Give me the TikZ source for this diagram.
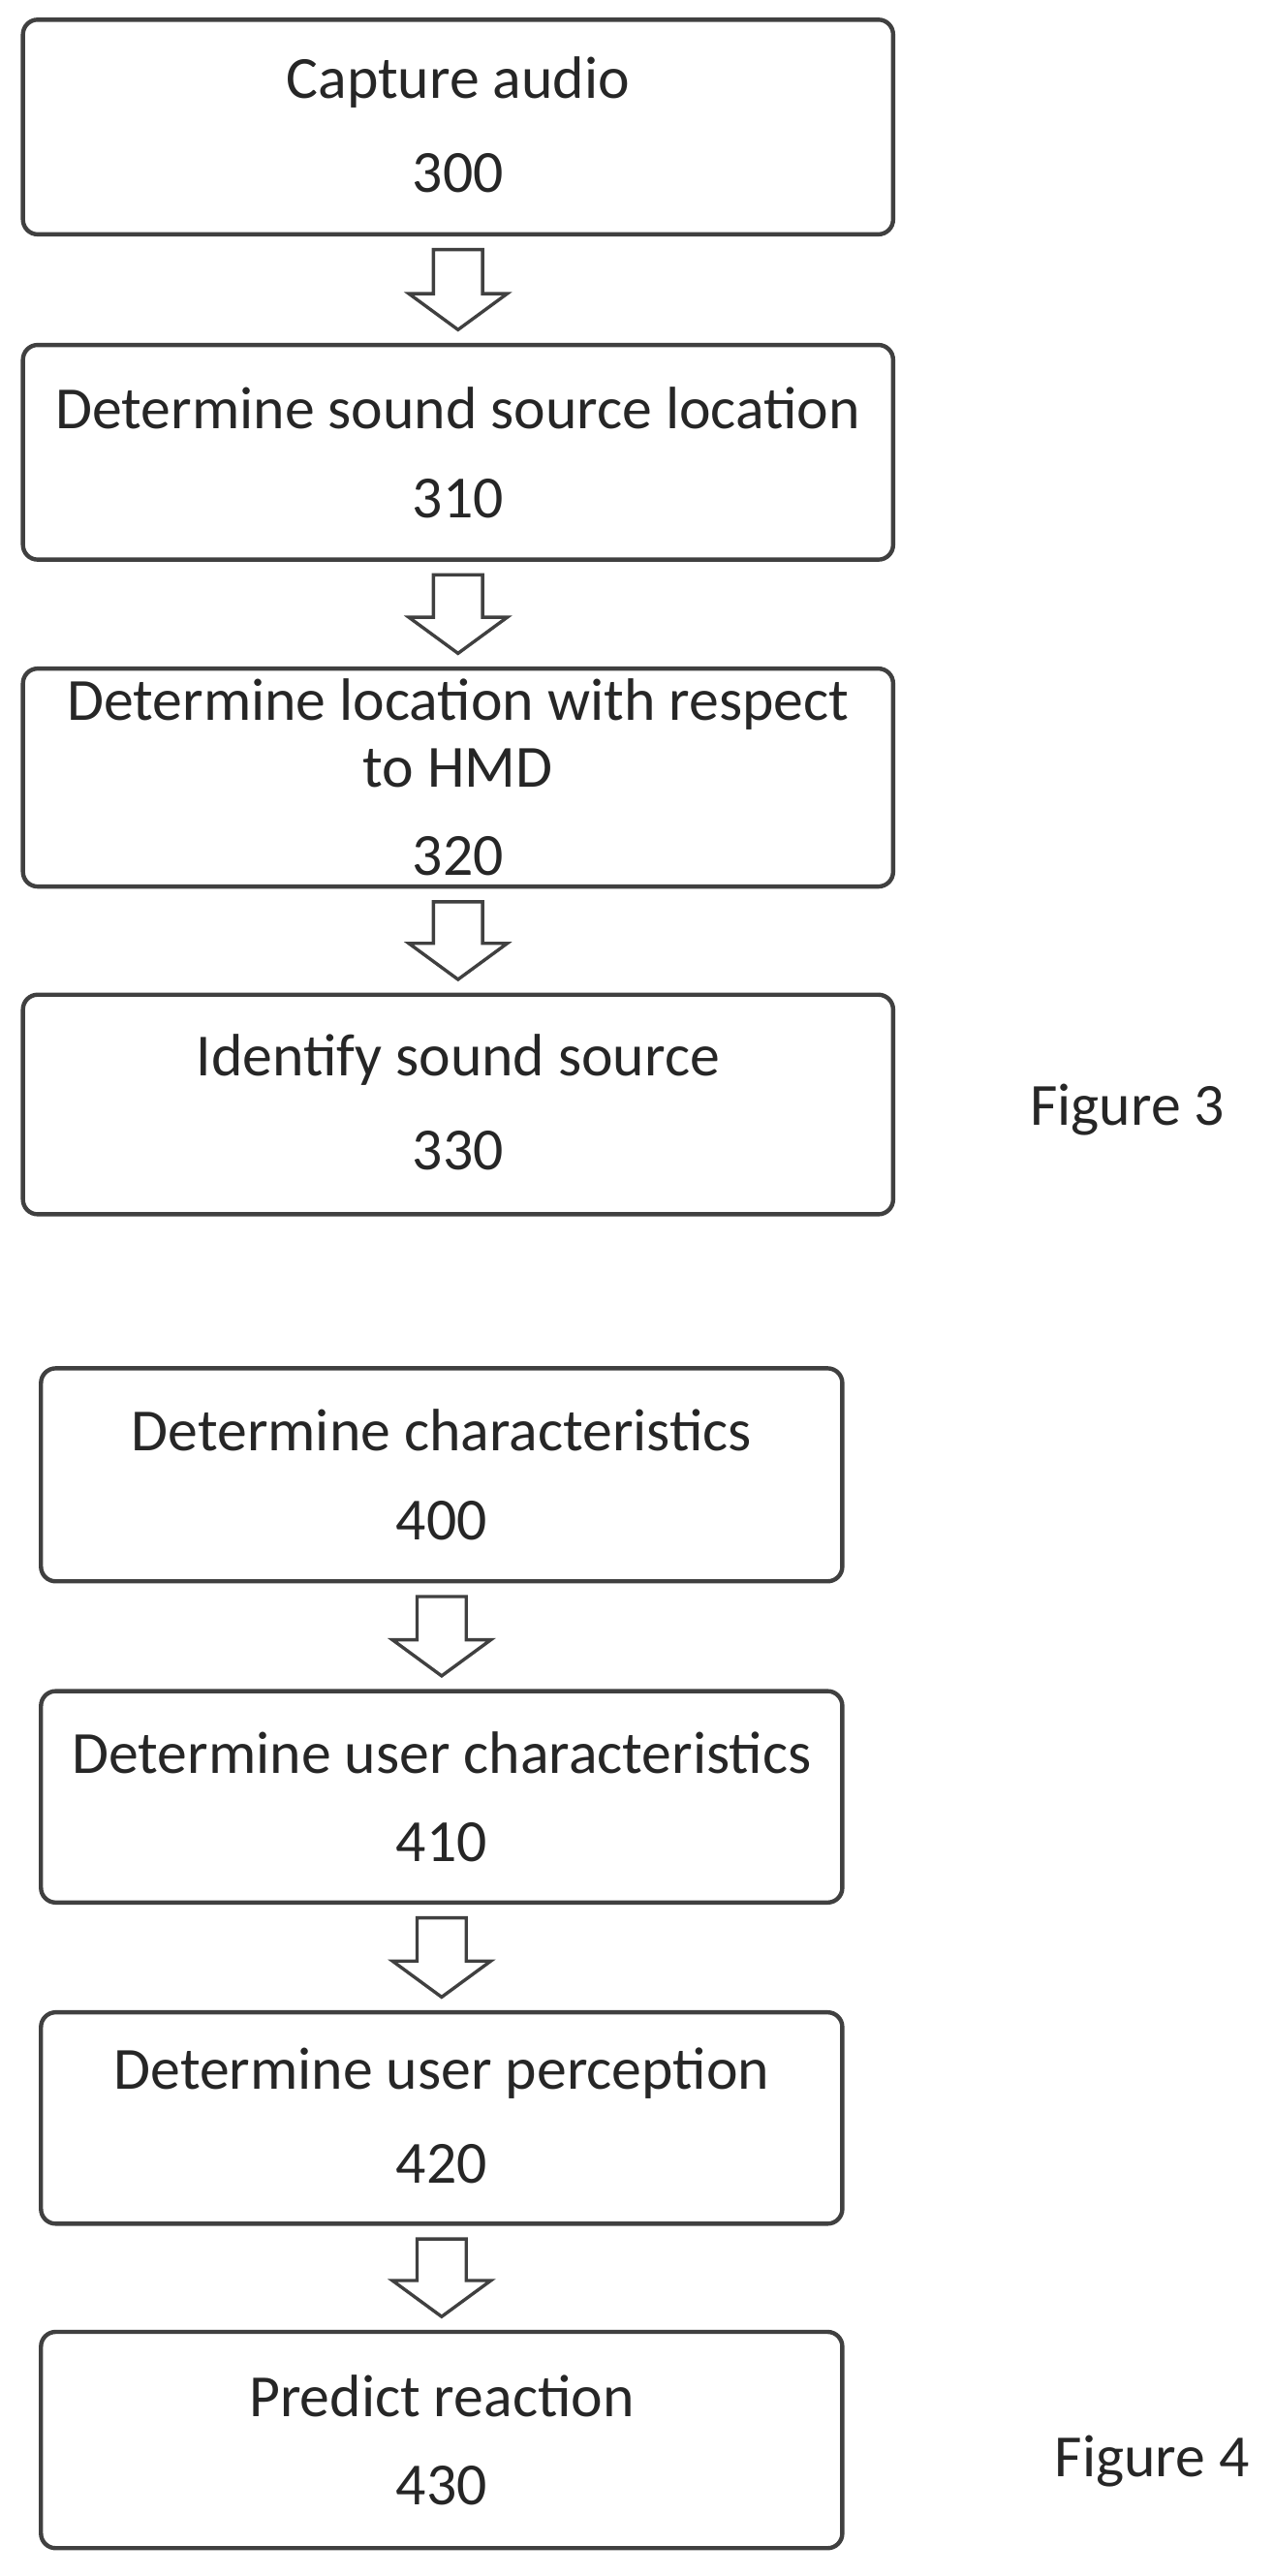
\documentclass[tikz,border=0pt]{standalone}
\usepackage{fontspec}
\setmainfont{Carlito}
\usetikzlibrary{positioning,calc}

\tikzset{
  stepbox/.style={draw=black!75, line width=2.6pt, rounded corners=9pt, inner sep=0pt},
  steptext/.style={font=\fontsize{36.5}{41}\selectfont, align=center, text=black!85},
  hollow/.style={draw=black!75, line width=2pt, fill=white},
}

% box with a title and its number (last argument: number offset)
\newcommand{\flowstep}[7]{%
  \node[stepbox, minimum width=#3, minimum height=#4] (#1) at (#2) {};
  \node[steptext] (#1t) at ($(#1.center)+(0,-27)$) {#5};
  \node[steptext] (#1n) at ($(#1.center)+(0,#7)$) {#6};
}

% hollow block arrow between two boxes
\newcommand{\blockarrow}[2]{%
  \coordinate (#1s) at ($(#1.south)+(0,8)$);
  \coordinate (#2s) at ($(#2.north)+(0,-8)$);
  \draw[hollow] ($(#1s)+(-15,0)$) -- ($(#1s)+(15,0)$) -- ($(#2s)+(15,-22)$)
    -- ($(#2s)+(30,-22)$) -- (#2s) -- ($(#2s)+(-30,-22)$) -- ($(#2s)+(-15,-22)$) -- cycle;
}

\begin{document}
\begin{tikzpicture}[x=1pt, y=-1pt]
\useasboundingbox (0,0) rectangle (777,1572);

% Figure 3
\flowstep{s300}{279.5,77.5}{531}{131}{Capture audio}{300}{28}
\flowstep{s310}{279.5,276}{531}{131}{Determine sound source location}{310}{28}
\flowstep{s320}{279.5,474.5}{531}{133}{Determine location with respect\\to HMD}{320}{48}
\flowstep{s330}{279.5,674}{531}{134}{Identify sound source}{330}{28}
\blockarrow{s300}{s310}
\blockarrow{s310}{s320}
\blockarrow{s320}{s330}
\node[steptext] (fig3) at (688,677) {Figure 3};

% Figure 4
\flowstep{s400}{269.5,900}{489}{130}{Determine characteristics}{400}{28}
\flowstep{s410}{269.5,1096.5}{489}{129}{Determine user characteristics}{410}{28}
\flowstep{s420}{269.5,1292.5}{489}{129}{Determine user perception}{420}{28}
\flowstep{s430}{269.5,1489}{489}{132}{Predict reaction}{430}{28}
\blockarrow{s400}{s410}
\blockarrow{s410}{s420}
\blockarrow{s420}{s430}
\node[steptext] (fig4) at (703,1502) {Figure 4};

\end{tikzpicture}
\end{document}
